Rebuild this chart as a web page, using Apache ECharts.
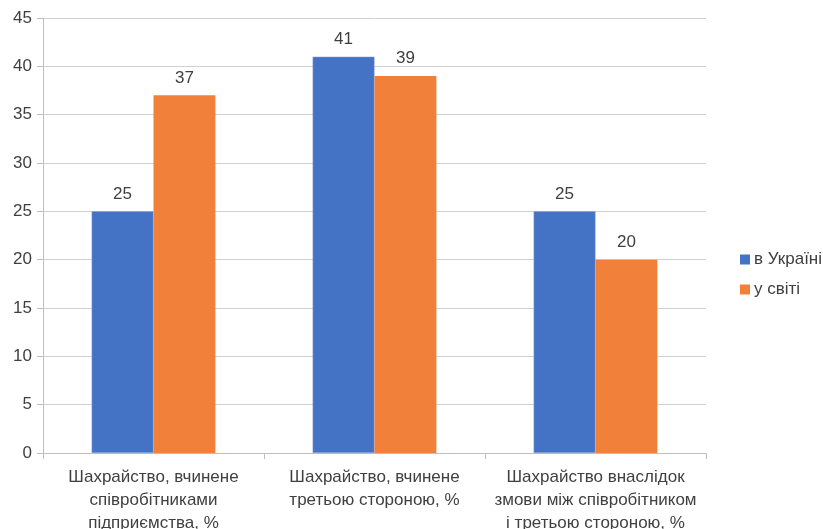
<!DOCTYPE html>
<html>
<head>
<meta charset="utf-8">
<script src="https://cdn.jsdelivr.net/npm/echarts@6/dist/echarts.min.js"></script>
<style>
html,body{margin:0;padding:0;background:#fff;}
#chart{width:823px;height:529px;}
</style>
</head>
<body>
<div id="chart"></div>
<script>
// Fraud types (multi-line category labels)
const categories = [
  "Шахрайство, вчинене\nспівробітниками\nпідприємства, %",
  "Шахрайство, вчинене\nтретьою стороною, %",
  "Шахрайство внаслідок\nзмови між співробітником\nі третьою стороною, %"
];
const seriesNames = ["в Україні", "у світі"];
const ukraineValues = [25, 41, 25];
const worldValues = [37, 39, 20];
const yTicks = { min: 0, max: 45, interval: 5 };

const FONT = "'Liberation Sans', Arial, sans-serif";
const TEXT = "#404040";
const FS = 17;

const chart = echarts.init(document.getElementById('chart'), null, { renderer: 'canvas' });
chart.setOption({
  animation: false,
  textStyle: { fontFamily: FONT },
  grid: { left: 43, right: 117, top: 18, bottom: 76, containLabel: false, outerBoundsMode: 'none' },
  legend: {
    orient: 'vertical',
    left: 735,
    top: 246,
    itemWidth: 10,
    itemHeight: 10,
    itemGap: 13,
    icon: 'rect',
    itemStyle: { borderWidth: 0 },
    textStyle: { fontFamily: FONT, fontSize: FS, color: TEXT, padding: [0, 0, 0, -1] },
    data: seriesNames
  },
  xAxis: {
    type: 'category',
    data: categories,
    axisLine: { lineStyle: { color: '#BFBFBF', width: 1 } },
    axisTick: { show: true, length: 6, lineStyle: { color: '#BFBFBF' } },
    axisLabel: {
      interval: 0,
      margin: 13,
      fontFamily: FONT,
      fontSize: FS,
      lineHeight: 23,
      color: TEXT
    }
  },
  yAxis: {
    type: 'value',
    min: yTicks.min,
    max: yTicks.max,
    interval: yTicks.interval,
    axisLine: { show: true, lineStyle: { color: '#BFBFBF', width: 1 } },
    axisTick: { show: true, length: 6, lineStyle: { color: '#BFBFBF' } },
    splitLine: { lineStyle: { color: '#D0D0D0', width: 1 } },
    axisLabel: { margin: 11, fontFamily: FONT, fontSize: FS, color: TEXT }
  },
  series: [
    {
      name: seriesNames[0],
      type: 'bar',
      data: ukraineValues,
      barGap: '0%',
      barCategoryGap: '44%',
      itemStyle: { color: '#4472C4', borderColor: '#8FA8D8', borderWidth: 0.5 },
      label: { show: true, position: 'top', distance: 9, fontFamily: FONT, fontSize: FS, color: TEXT }
    },
    {
      name: seriesNames[1],
      type: 'bar',
      data: worldValues,
      barGap: '0%',
      barCategoryGap: '44%',
      itemStyle: { color: '#F0803A' },
      label: { show: true, position: 'top', distance: 9, fontFamily: FONT, fontSize: FS, color: TEXT }
    }
  ]
});
</script>
</body>
</html>
